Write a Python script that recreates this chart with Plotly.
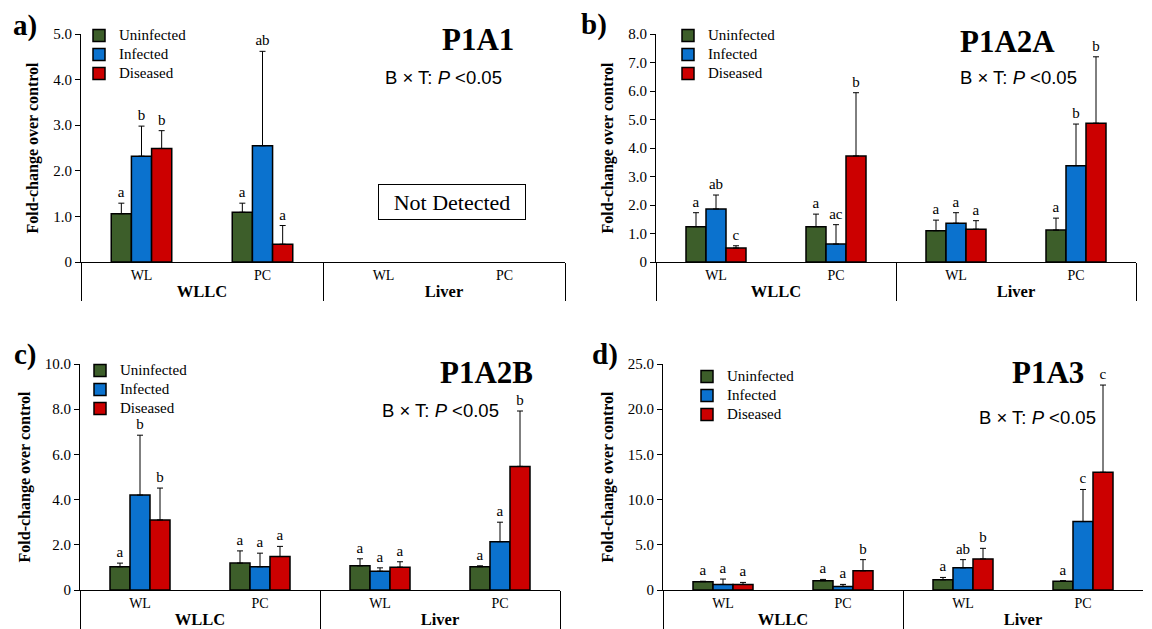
import plotly.graph_objects as go

# ---------------- data ----------------
tissue = ["WLLC", "WLLC", "Liver", "Liver"]
site = ["WL", "PC", "WL", "PC"]
series_names = ["Uninfected", "Infected", "Diseased"]
series_colors = ["#3D5E2A", "#0B72CE", "#CC0000"]

# Panel a) P1A1 (Liver: not detected)
a_uninf = [1.06, 1.09, None, None]
a_uninf_err = [0.23, 0.20, None, None]
a_inf = [2.32, 2.55, None, None]
a_inf_err = [0.66, 2.07, None, None]
a_dis = [2.49, 0.39, None, None]
a_dis_err = [0.39, 0.41, None, None]
a_uninf_lbl = ["a", "a", None, None]
a_inf_lbl = ["b", "ab", None, None]
a_dis_lbl = ["b", "a", None, None]

# Panel b) P1A2A
b_uninf = [1.24, 1.24, 1.10, 1.12]
b_uninf_err = [0.49, 0.44, 0.37, 0.42]
b_inf = [1.86, 0.63, 1.36, 3.38]
b_inf_err = [0.49, 0.68, 0.37, 1.46]
b_dis = [0.49, 3.72, 1.15, 4.87]
b_dis_err = [0.08, 2.22, 0.30, 2.33]
b_uninf_lbl = ["a", "a", "a", "a"]
b_inf_lbl = ["ab", "ac", "a", "b"]
b_dis_lbl = ["c", "b", "a", "b"]

# Panel c) P1A2B
c_uninf = [1.03, 1.19, 1.07, 1.03]
c_uninf_err = [0.16, 0.54, 0.31, 0.04]
c_inf = [4.20, 1.03, 0.83, 2.14]
c_inf_err = [2.65, 0.60, 0.15, 0.86]
c_dis = [3.10, 1.48, 1.01, 5.47]
c_dis_err = [1.41, 0.45, 0.24, 2.45]
c_uninf_lbl = ["a", "a", "a", "a"]
c_inf_lbl = ["b", "a", "a", "a"]
c_dis_lbl = ["b", "a", "a", "b"]

# Panel d) P1A3
d_uninf = [0.92, 1.02, 1.13, 0.98]
d_uninf_err = [0.05, 0.15, 0.26, 0.05]
d_inf = [0.62, 0.40, 2.45, 7.57]
d_inf_err = [0.59, 0.22, 0.91, 3.55]
d_dis = [0.62, 2.12, 3.44, 13.02]
d_dis_err = [0.22, 1.24, 1.17, 9.65]
d_uninf_lbl = ["a", "a", "a", "a"]
d_inf_lbl = ["a", "a", "ab", "c"]
d_dis_lbl = ["a", "b", "b", "c"]

a_ticks = [0, 1, 2, 3, 4, 5]
a_ticktext = ["0", "1.0", "2.0", "3.0", "4.0", "5.0"]
b_ticks = [0, 1, 2, 3, 4, 5, 6, 7, 8]
b_ticktext = ["0", "1.0", "2.0", "3.0", "4.0", "5.0", "6.0", "7.0", "8.0"]
c_ticks = [0, 2, 4, 6, 8, 10]
c_ticktext = ["0", "2.0", "4.0", "6.0", "8.0", "10.0"]
d_ticks = [0, 5, 10, 15, 20, 25]
d_ticktext = ["0", "5.0", "10.0", "15.0", "20.0", "25.0"]

panel_letters = ["a)", "b)", "c)", "d)"]
panel_titles = ["P1A1", "P1A2A", "P1A2B", "P1A3"]
stat_text = "B × T: <i>P</i> <0.05"
y_title = "Fold-change over control"
not_detected = "Not Detected"

# ---------------- layout helpers ----------------
# The page body has an 8 px margin, so the figure is 8 px smaller than the
# window and screen positions are converted accordingly.
OFF = 8
W, H = 1152 - OFF, 629 - OFF
SERIF = "Liberation Serif"
SANS = "Liberation Sans"


def px(x):
    return (x - OFF) / W


def py(y):
    return 1 - (y - OFF) / H


panels = [
    dict(vals=[a_uninf, a_inf, a_dis], errs=[a_uninf_err, a_inf_err, a_dis_err],
         lbls=[a_uninf_lbl, a_inf_lbl, a_dis_lbl], ticks=a_ticks, ticktext=a_ticktext,
         xdom=(81, 565), ydom=(34, 262)),
    dict(vals=[b_uninf, b_inf, b_dis], errs=[b_uninf_err, b_inf_err, b_dis_err],
         lbls=[b_uninf_lbl, b_inf_lbl, b_dis_lbl], ticks=b_ticks, ticktext=b_ticktext,
         xdom=(656, 1136), ydom=(34, 262)),
    dict(vals=[c_uninf, c_inf, c_dis], errs=[c_uninf_err, c_inf_err, c_dis_err],
         lbls=[c_uninf_lbl, c_inf_lbl, c_dis_lbl], ticks=c_ticks, ticktext=c_ticktext,
         xdom=(80, 560), ydom=(364, 590)),
    dict(vals=[d_uninf, d_inf, d_dis], errs=[d_uninf_err, d_inf_err, d_dis_err],
         lbls=[d_uninf_lbl, d_inf_lbl, d_dis_lbl], ticks=d_ticks, ticktext=d_ticktext,
         xdom=(663, 1143), ydom=(364, 590)),
]

outer = ["<span style='font-size:16.5px'><b>%s</b></span>" % t for t in tissue]
xcats = [outer, site]
legend_names = ["<span style='font-size:15px'>%s</span>" % s for s in series_names]

fig = go.Figure()
layout = dict(
    width=W, height=H, margin=dict(l=0, r=0, t=0, b=0, autoexpand=False),
    paper_bgcolor="white", plot_bgcolor="white",
    barmode="group", bargap=0.5, bargroupgap=0,
    font=dict(family=SERIF, size=14, color="black"),
    showlegend=True,
)

legend_pos = [(79, 21), (668, 21), (80, 356), (687, 362)]
annotations = []

for i, p in enumerate(panels):
    n = "" if i == 0 else str(i + 1)
    xa, ya = "x" + n, "y" + n
    leg = "legend" + n
    for s in range(3):
        fig.add_trace(go.Bar(
            x=xcats, y=p["vals"][s], name=legend_names[s],
            xaxis=xa, yaxis=ya, legend=leg, offsetgroup=str(s),
            marker=dict(color=series_colors[s], line=dict(color="black", width=1.5)),
            error_y=dict(type="data", symmetric=False, array=p["errs"][s],
                         arrayminus=[0 if v is not None else None for v in p["errs"][s]],
                         color="black", thickness=1, width=3),
            hoverinfo="skip",
        ))
    for s in range(3):
        tops = [None if v is None else v + e for v, e in zip(p["vals"][s], p["errs"][s])]
        fig.add_trace(go.Bar(
            x=xcats, y=tops, xaxis=xa, yaxis=ya, offsetgroup=str(s), showlegend=False,
            marker=dict(color="rgba(0,0,0,0)", line=dict(width=0)),
            text=p["lbls"][s], textposition="outside", constraintext="none",
            textfont=dict(family=SERIF, size=15, color="black"),
            outsidetextfont=dict(family=SERIF, size=15, color="black"),
            cliponaxis=False, hoverinfo="skip",
        ))
    x0, x1 = p["xdom"]
    y0, y1 = p["ydom"]
    layout["xaxis" + n] = dict(
        domain=[px(x0), px(x1)], anchor=ya, type="multicategory",
        showline=True, linecolor="black", linewidth=1, ticks="",
        showdividers=True, dividercolor="black", dividerwidth=1,
        tickfont=dict(family=SERIF, size=14, color="black"),
        showgrid=False, zeroline=False, fixedrange=True,
    )
    layout["yaxis" + n] = dict(
        domain=[py(y1), py(y0)], anchor=xa, range=[0, p["ticks"][-1]],
        tickvals=p["ticks"], ticktext=p["ticktext"],
        showline=True, linecolor="black", linewidth=1,
        ticks="outside", ticklen=5, tickcolor="black",
        tickfont=dict(family=SERIF, size=15, color="black"),
        showgrid=False, zeroline=False, fixedrange=True,
        title=dict(text=y_title, font=dict(family=SERIF, size=16, color="black", weight="bold"),
                   standoff=10),
    )
    lx, ly = legend_pos[i]
    layout[leg] = dict(
        x=px(lx), y=py(ly), xanchor="left", yanchor="top",
        bgcolor="rgba(0,0,0,0)", borderwidth=0,
        font=dict(family=SERIF, size=12, color="black"),
        itemwidth=30, tracegroupgap=0,
    )

# panel letters, titles, stats
letter_pos = [(25, 25), (594, 24), (25, 354), (605, 354)]
title_pos = [(478, 39), (1007, 41), (486, 372), (1048, 373)]
stat_pos = [(443, 77), (1018, 77), (440, 410), (1037, 417)]
for i in range(4):
    lx, ly = letter_pos[i]
    annotations.append(dict(text="<b>%s</b>" % panel_letters[i], x=px(lx), y=py(ly),
                            xref="paper", yref="paper", xanchor="center", yanchor="middle",
                            showarrow=False, font=dict(family=SERIF, size=29, color="black")))
    tx, ty = title_pos[i]
    annotations.append(dict(text="<b>%s</b>" % panel_titles[i], x=px(tx), y=py(ty),
                            xref="paper", yref="paper", xanchor="center", yanchor="middle",
                            showarrow=False, font=dict(family=SERIF, size=31, color="black")))
    sx, sy = stat_pos[i]
    annotations.append(dict(text=stat_text, x=px(sx), y=py(sy),
                            xref="paper", yref="paper", xanchor="center", yanchor="middle",
                            showarrow=False, font=dict(family=SANS, size=18.5, color="black")))

# "Not Detected" box in panel a
annotations.append(dict(text=not_detected, x=px(452), y=py(202), xref="paper", yref="paper",
                        xanchor="center", yanchor="middle",
                        showarrow=False, font=dict(family=SERIF, size=22, color="black"),
                        bordercolor="black", borderwidth=1, borderpad=5, bgcolor="white",
                        width=136, height=24))

layout["annotations"] = annotations
fig.update_layout(**layout)
fig.write_html("out.html")
